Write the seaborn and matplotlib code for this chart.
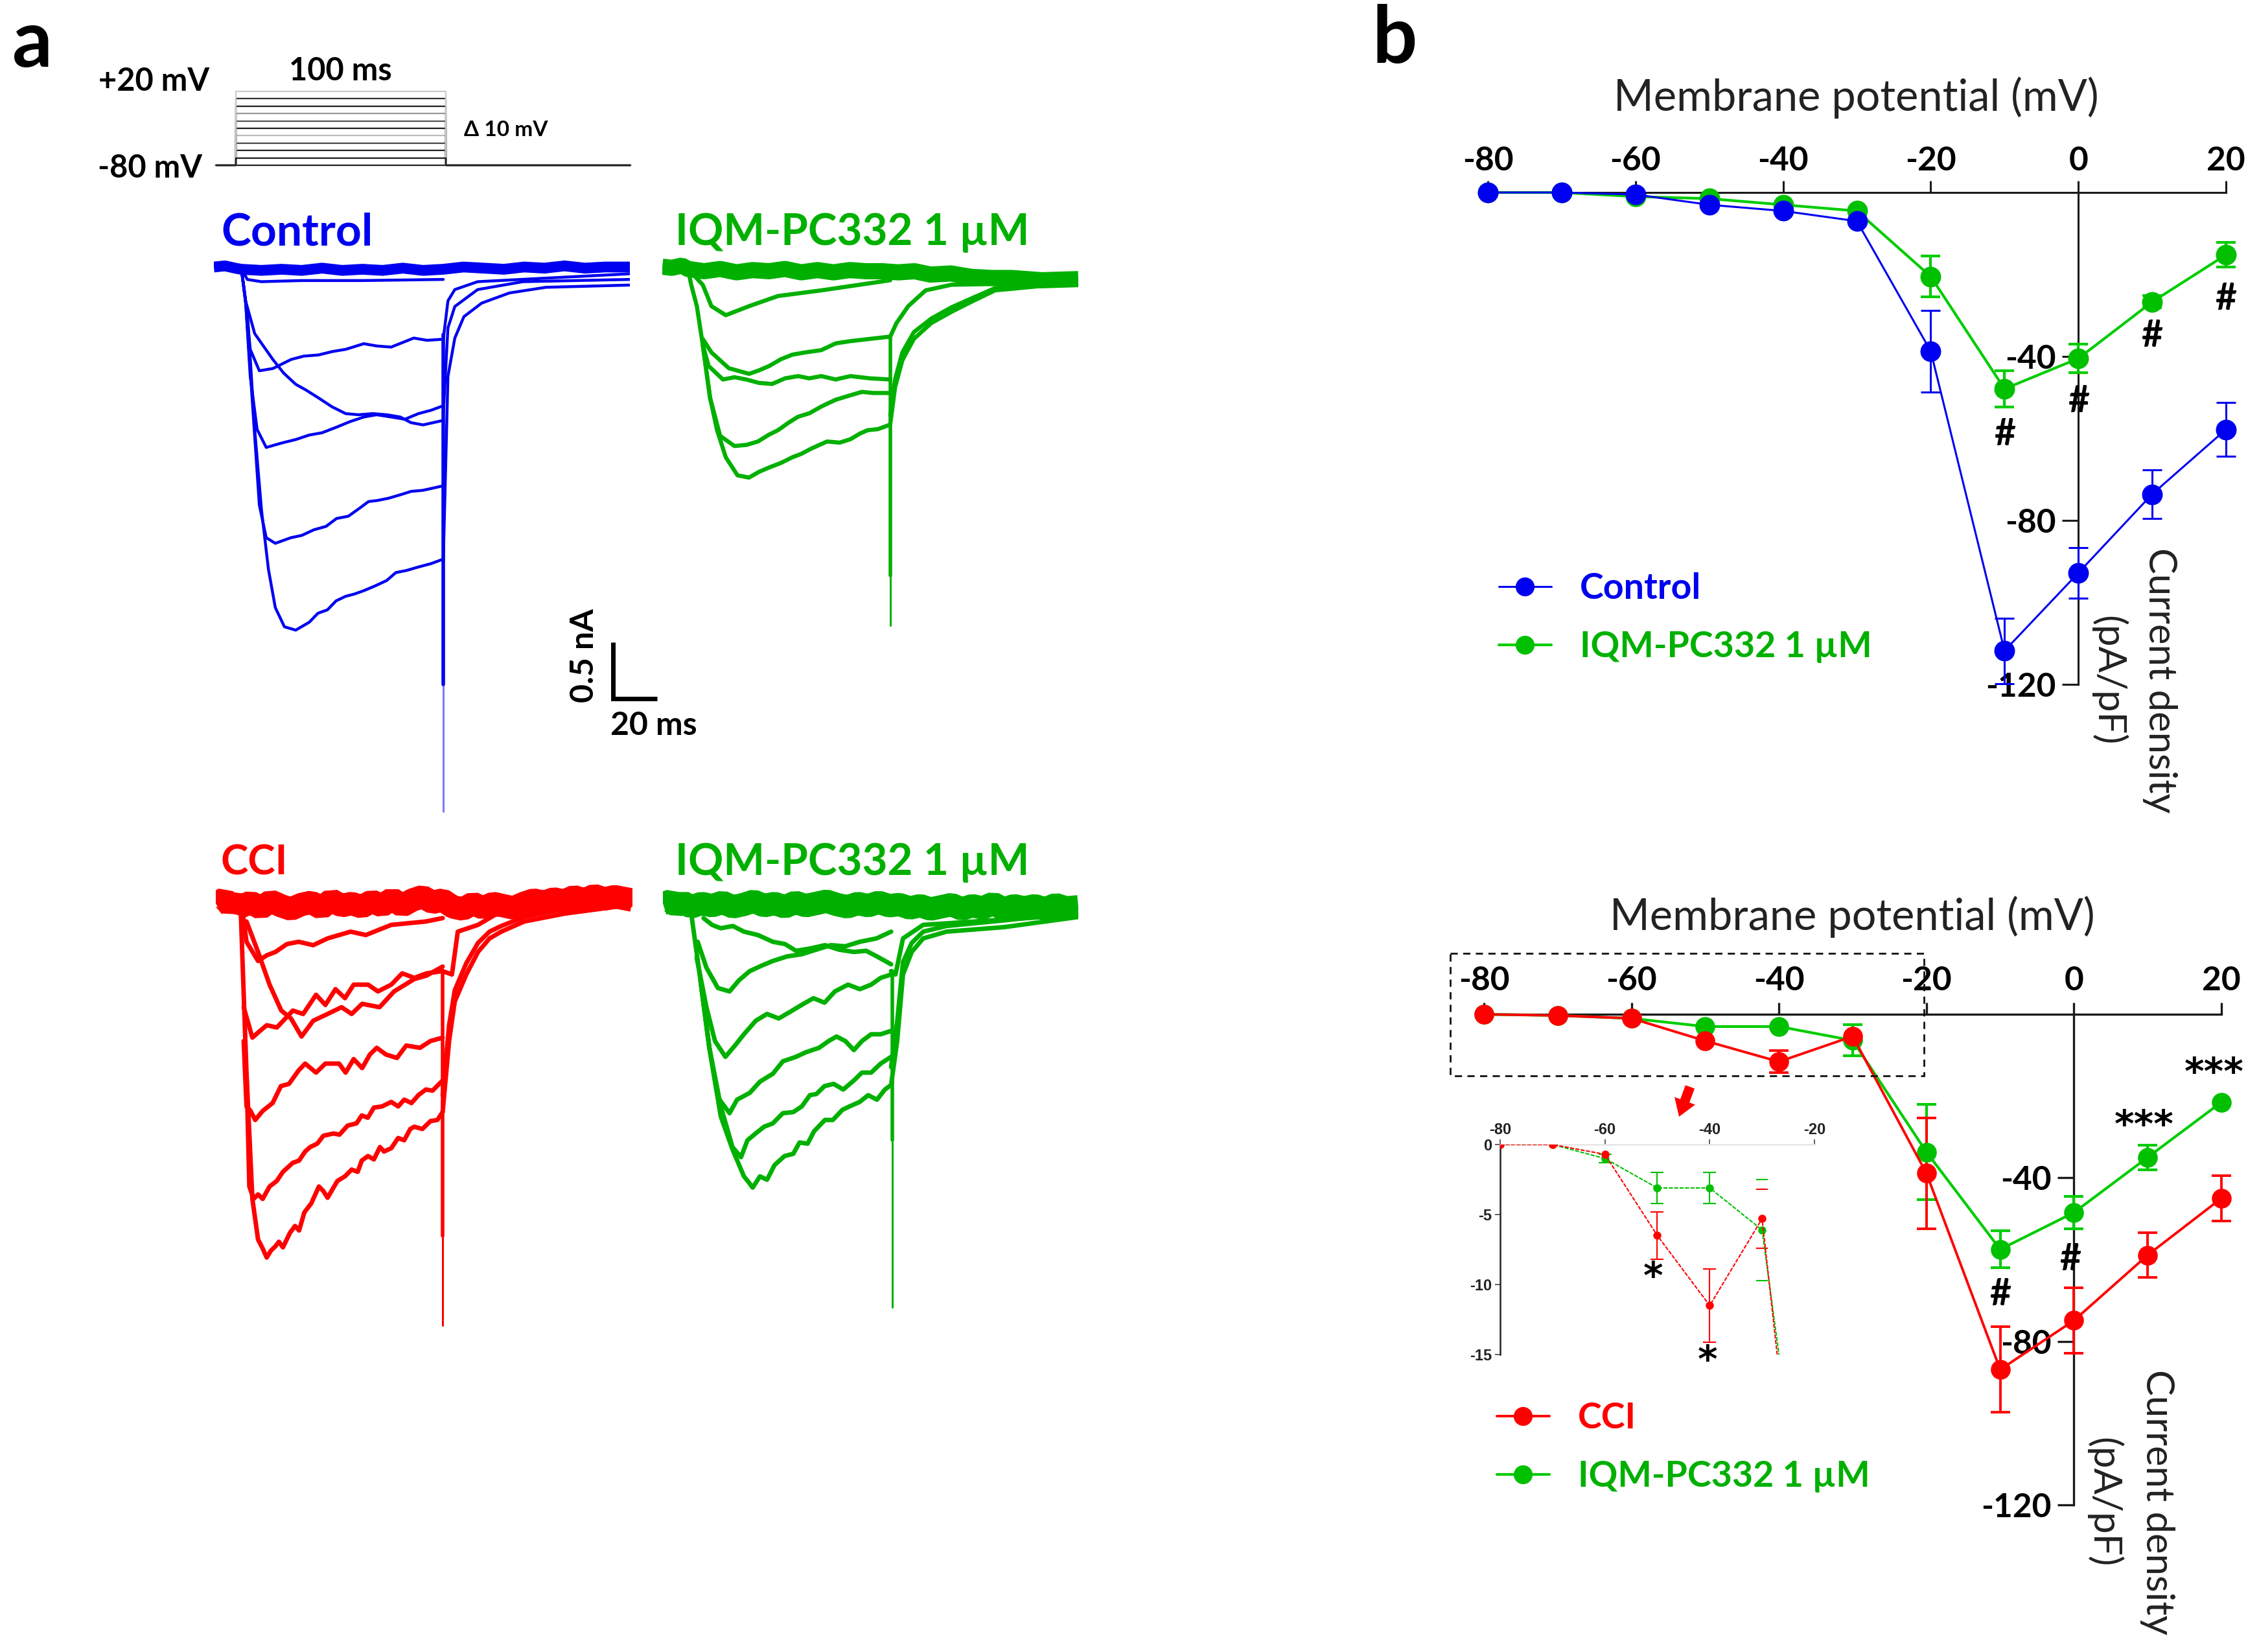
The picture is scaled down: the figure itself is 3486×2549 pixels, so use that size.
import matplotlib
matplotlib.use("Agg")
import matplotlib.pyplot as plt
import seaborn as sns
from matplotlib.patches import FancyArrow, Rectangle
from matplotlib.lines import Line2D

sns.set_theme(style="white")
plt.rcParams['font.family'] = ['Lato', 'DejaVu Sans']

W, H = 3487, 2549
BLUE, RED = '#0000F0', '#FF0000'
GLINE, GMARK, GTRACE = '#00CC00', '#00C000', '#00B000'
DARK = '#1a1a1a'

# ---------- panel b: current-density data ----------
voltage = [-80, -70, -60, -50, -40, -30, -20, -10, 0, 10, 20]
control_i = [0, 0, -0.5, -3, -4.5, -7, -38.7, -111.8, -92.8, -73.6, -57.8]
control_e = [0, 0, 0, 0, 0, 0, 10, 8, 6.2, 6, 6.5]
drug1_i = [0, 0, -1, -1.5, -3, -4.5, -20.5, -47.9, -40.5, -26.7, -15.2]
drug1_e = [0, 0, 0, 0, 0, 0, 5, 4.5, 3.5, 1.5, 3]
cci_i = [0, -0.3, -1, -6.5, -11.6, -5.4, -38.9, -86.9, -74.9, -58.9, -45]
cci_e = [0, 0, 0, 0, 2.7, 0, 13.6, 10.5, 8, 5.5, 5.5]
drug2_i = [0, -0.3, -1, -3, -3, -6.4, -33.7, -57.5, -48.5, -35, -21.5]
drug2_e = [0, 0, 0, 0, 0, 3.8, 11.7, 4.5, 4, 3, 0]

# inset (zoom of the same recordings)
inset_v = [-80, -70, -60, -50, -40, -30, -20]
inset_cci = [0, 0, -0.7, -6.5, -11.5, -5.3, -38.9]
inset_cci_e = [0, 0, 0, 1.7, 2.6, 0, 0]
inset_cci_cap = [-3.2, -7.4]
inset_drug = [0, 0, -1, -3.1, -3.1, -6.1, -33.7]
inset_drug_e = [0, 0, 0.3, 1.1, 1.1, 0, 0]
inset_drug_cap = [-2.5, -9.7]

x_ticks = [-80, -60, -40, -20, 0, 20]
y_ticks = [-40, -80, -120]
inset_xt = [-80, -60, -40, -20]
inset_yt = [0, -5, -10, -15]

# ---------- panel a: voltage protocol ----------
step_mv = [-80, -70, -60, -50, -40, -30, -20, -10, 0, 10, 20]
step_t = [-9.5, 0, 0, 100, 100, 188]

# ---------- panel a: Control traces (t in ms, I in nA) ----------
c5_t = [0, 3.4, 6.7, 10.1, 13.5, 16.9, 21.4, 27, 33.7, 38, 42.7, 47, 51.7, 56, 60.7, 66, 72, 76.5, 82, 87.7, 94, 100]
c5_i = [0, -.49, -1.44, -2.16, -2.68, -3.02, -3.19, -3.22, -3.15, -3.07, -3.04, -2.96, -2.92, -2.90, -2.87, -2.83, -2.78, -2.71, -2.69, -2.66, -2.63, -2.59]
c4_t = [0, 2.2, 5.6, 9, 12.4, 16.9, 24.7, 30, 36, 42, 47.2, 53, 58.5, 63, 67.5, 73, 78.7, 84, 90, 95, 100]
c4_i = [0, -.30, -1.21, -2.11, -2.40, -2.45, -2.40, -2.38, -2.33, -2.30, -2.23, -2.21, -2.14, -2.08, -2.07, -2.05, -2.02, -1.99, -1.98, -1.96, -1.94]
c3_t = [0, 2.2, 4.5, 7.9, 12.4, 20.2, 27, 33.7, 40, 47.2, 54, 60.7, 67, 74.2, 81, 87.7, 94, 100]
c3_i = [0, -.3, -.97, -1.44, -1.60, -1.56, -1.53, -1.49, -1.47, -1.42, -1.37, -1.33, -1.31, -1.33, -1.35, -1.30, -1.27, -1.23]
c2_t = [0, 2.2, 6.7, 11, 15.7, 21, 27, 32, 38.2, 45, 51.7, 58, 65.2, 72, 78.7, 84, 90, 100]
c2_i = [0, -.3, -.59, -.70, -.82, -.94, -1.04, -1.09, -1.16, -1.24, -1.30, -1.31, -1.30, -1.31, -1.33, -1.38, -1.40, -1.36]
c1_t = [0, 2.2, 4.5, 9, 15.7, 24.7, 31, 38.2, 45, 51.7, 60.7, 67, 74.2, 85.4, 92, 100]
c1_i = [0, -.3, -.73, -.92, -.90, -.82, -.79, -.78, -.75, -.73, -.68, -.70, -.71, -.63, -.65, -.64]
c0_t = [0, 3, 10, 30, 60, 100]
c0_i = [0, -.11, -.13, -.12, -.12, -.11]
ctl_t = [100, 102.3, 105.7, 110.2, 119, 132.7, 150.7, 192.3]
ctl_i = [-2.6, -.97, -.63, -.44, -.32, -.23, -.18, -.16]
ctm_t = [100, 102.3, 105.7, 117, 139.4, 192.3]
ctm_i = [-1.3, -.54, -.35, -.20, -.13, -.11]
ctu_t = [100, 102.3, 105.7, 117, 192.3]
ctu_i = [-.64, -.30, -.20, -.13, -.06]
cb_t = [-13.5, -8, -3, 0, 10, 20, 30, 40, 50, 60, 70, 80, 90, 100, 110, 120, 130, 140, 150, 160, 170, 180, 192.3]
cb_i = [0, .01, -.01, -.02, -.03, -.02, -.03, -.01, -.03, -.02, -.03, -.01, -.03, -.02, 0, -.01, -.02, 0, -.01, .01, -.01, 0, 0]
c_spike_t = [100, 100]
c_spike_i = [-.6, -3.7]
c_thin_i = [-3.7, -4.83]

# ---------- IQM-PC332 (upper) traces ----------
g5_t = [0, 1.6, 4.4, 7.3, 10.9, 14.4, 18.7, 24.5, 30.2, 35, 40.2, 46, 51.6, 56, 60.2, 65, 68.8, 75, 80.3, 85, 88.8, 94, 100]
g5_i = [0, -.14, -.33, -.67, -1.14, -1.43, -1.67, -1.83, -1.85, -1.80, -1.76, -1.72, -1.67, -1.64, -1.60, -1.56, -1.53, -1.54, -1.51, -1.46, -1.43, -1.42, -1.38]
g4_t = [7.3, 10.9, 15.9, 23, 29, 34.6, 40, 44.5, 50, 54.5, 60, 65.9, 73, 80.3, 86, 91.7, 100]
g4_i = [-.67, -1.14, -1.48, -1.57, -1.56, -1.53, -1.47, -1.43, -1.36, -1.31, -1.28, -1.22, -1.16, -1.12, -1.09, -1.10, -1.10]
g3_t = [7.3, 10.2, 17.3, 23, 28.8, 35, 41.6, 48, 54.5, 60, 65.9, 73, 80.3, 90, 100]
g3_i = [-.67, -.86, -.98, -.96, -.98, -1.01, -1.02, -.97, -.95, -.97, -.95, -.98, -.95, -.97, -.98]
g2_t = [7.3, 11.6, 20.2, 30.2, 35, 40.2, 46, 51.6, 58, 65.9, 73, 80.3, 90, 100]
g2_i = [-.62, -.74, -.88, -.93, -.90, -.86, -.80, -.76, -.74, -.72, -.66, -.64, -.62, -.60]
g1_t = [0, 7.3, 11.6, 18.7, 30.2, 44.5, 65.9, 100]
g1_i = [0, -.14, -.33, -.41, -.33, -.24, -.19, -.10]
gtl_t = [100, 102.4, 106, 111.7, 120.3, 130.3, 140.3, 151.8, 193]
gtl_i = [-1.38, -1.05, -.81, -.62, -.48, -.38, -.29, -.19, -.12]
gtl2_i = [-1.30, -.98, -.74, -.56, -.44, -.34, -.26, -.17, -.10]
gtm_t = [100, 103.1, 108.9, 117.5, 130.3, 193]
gtm_i = [-.6, -.48, -.33, -.19, -.14, -.12]
gb_t = [-12.7, -8, -3, 0, 8, 16, 24, 32, 40, 48, 56, 64, 72, 80, 88, 96, 104, 112, 120, 130, 140, 150, 160, 175, 193]
gb_i = [.02, .01, .03, 0, -.02, 0, -.03, -.01, -.02, 0, -.03, -.01, -.03, -.01, -.02, -.02, -.03, -.02, -.05, -.04, -.07, -.08, -.08, -.10, -.09]
g_spike_t = [100, 100]
g_spike_i = [-.6, -2.72]
g_thin_i = [-2.72, -3.16]

# ---------- CCI traces ----------
r5_t = [.1, 3, 5.9, 8.7, 11, 13, 15, 17.3, 19, 21, 24.5, 27, 29, 31.6, 35, 38.8, 41, 43.1, 46, 48, 51.7, 55, 58, 60, 63.1, 66, 69, 71, 74.6, 78, 81, 84, 86, 90, 94, 97.4, 100]
r5_i = [-.04, -1.51, -2.62, -2.98, -3.06, -3.14, -3.08, -3.04, -3.00, -3.05, -2.92, -2.86, -2.90, -2.74, -2.66, -2.51, -2.55, -2.61, -2.52, -2.46, -2.42, -2.36, -2.38, -2.28, -2.24, -2.27, -2.16, -2.20, -2.17, -2.08, -2.10, -2.00, -1.98, -2.00, -1.93, -1.92, -1.85]
r4_t = [3, 4.4, 6.5, 8.7, 11, 14.4, 18, 21, 25.9, 29, 32, 34.5, 38, 41, 46, 49, 53, 57.4, 60, 63, 66, 70, 74.6, 78, 81, 84.6, 88, 91.7, 95, 100]
r4_i = [-1.51, -2.51, -2.62, -2.58, -2.62, -2.51, -2.46, -2.38, -2.30, -2.28, -2.20, -2.16, -2.13, -2.06, -2.04, -2.05, -1.97, -1.95, -1.88, -1.90, -1.81, -1.80, -1.76, -1.80, -1.74, -1.77, -1.70, -1.65, -1.66, -1.57]
r3_t = [1.6, 3, 5, 7.3, 11, 15.9, 20, 24, 28.8, 32, 37.4, 42, 48.8, 52, 56, 60.2, 64, 67.4, 72, 77.4, 82, 88.8, 94, 100]
r3_i = [-1.22, -1.80, -1.84, -1.92, -1.84, -1.77, -1.62, -1.60, -1.48, -1.42, -1.50, -1.42, -1.42, -1.50, -1.38, -1.46, -1.34, -1.28, -1.34, -1.37, -1.26, -1.28, -1.22, -1.19]
r2_t = [1.6, 5.9, 9, 13, 18, 25.9, 31, 37.4, 42, 47, 51.7, 56, 63.1, 68, 74.6, 80, 86, 92, 100]
r2_i = [-.92, -1.19, -1.14, -1.08, -1.10, -.95, -.98, -.81, -.90, -.76, -.84, -.72, -.72, -.78, -.72, -.62, -.66, -.62, -.60]
rs_t = [3, 8.7, 14.4, 20.2, 25, 30.2, 36, 43.1, 50, 55, 60.2, 68.8, 76, 86, 92, 100]
rs_i = [-.16, -.43, -.72, -.95, -1.02, -1.18, -1.04, -.98, -.92, -.98, -.89, -.92, -.78, -.67, -.64, -.56]
r1_t = [.5, 3, 8.7, 13, 17.3, 23, 28.8, 36, 43.1, 54.5, 62, 74.6, 91.7, 100]
r1_i = [0, -.34, -.51, -.46, -.43, -.36, -.34, -.37, -.31, -.25, -.28, -.19, -.16, -.13]
rtl_t = [100, 103.2, 106, 111.7, 117.5, 123.2, 129, 140.4, 160.4, 193.9]
rtl_i = [-1.85, -1.22, -.87, -.63, -.43, -.31, -.25, -.16, -.09, -.01]
rtl2_i = [-1.70, -1.08, -.77, -.53, -.35, -.25, -.20, -.12, -.05, .01]
rtm_t = [100, 104.6, 107.5, 117.5, 126, 193.9]
rtm_i = [-.6, -.63, -.25, -.19, -.10, -.01]
rb_t = [-12.2, -8, -5, -2, 0, 5, 10, 15, 20, 25, 30, 35, 40, 45, 50, 55, 60, 65, 70, 75, 80, 85, 90, 95, 100, 105, 110, 115, 120, 125, 130, 135, 140, 145, 150, 155, 160, 165, 170, 175, 180, 185, 193.9]
rb_i = [0, .04, -.02, .03, -.03, .01, -.04, .02, -.02, -.05, -.01, .01, -.04, .03, -.02, 0, -.03, .02, -.02, .04, -.02, .03, .06, .01, .03, -.03, -.05, 0, -.04, 0, -.02, -.04, 0, .03, .01, .04, .02, .06, .03, .07, .04, .06, .03]
r_spike_t = [100, 100]
r_spike_i = [-.6, -2.95]
r_thin_i = [-2.95, -3.74]

# ---------- IQM-PC332 (lower) traces ----------
v5_t = [3.3, 7.5, 11.7, 17.2, 22.8, 28.3, 30.5, 32.5, 36, 39.4, 43, 47.8, 52, 55, 58.9, 62, 67.2, 71, 75.6, 79, 83.9, 88, 92.2, 96, 99]
v5_i = [-.13, -.69, -1.28, -1.89, -2.18, -2.42, -2.47, -2.52, -2.42, -2.45, -2.32, -2.24, -2.22, -2.12, -2.13, -2.02, -1.92, -1.92, -1.83, -1.80, -1.76, -1.70, -1.74, -1.65, -1.61]
v4_t = [7.5, 11.7, 17.2, 22.8, 26.9, 30, 33.9, 38, 42.2, 47, 52, 56.1, 60, 63.1, 67, 71.4, 76, 81.1, 85, 89.4, 94, 99]
v4_i = [-.69, -1.28, -1.80, -2.16, -2.25, -2.10, -2.04, -1.98, -1.95, -1.86, -1.85, -1.80, -1.70, -1.69, -1.62, -1.60, -1.65, -1.57, -1.50, -1.50, -1.42, -1.36]
v3_t = [7.5, 11.7, 15.8, 21.4, 25, 31.1, 36, 42.2, 47, 53.3, 58, 64.4, 69, 72.8, 77, 81.1, 85, 89.4, 94, 99]
v3_i = [-.69, -1.28, -1.72, -1.86, -1.74, -1.68, -1.58, -1.51, -1.40, -1.36, -1.32, -1.28, -1.22, -1.18, -1.22, -1.30, -1.22, -1.16, -1.16, -1.13]
v2_t = [5.6, 10.3, 14.4, 19.4, 24, 28.3, 34, 39.4, 45, 50.6, 56, 61.7, 67, 72, 78.3, 84, 89.4, 94, 99]
v2_i = [-.48, -.92, -1.22, -1.36, -1.26, -1.16, -1.04, -.98, -1.02, -.96, -.90, -.84, -.88, -.78, -.72, -.76, -.72, -.66, -.63]
v1_t = [6.1, 10.3, 15.8, 21.4, 26, 31.1, 37, 42.2, 49, 56.1, 63, 70, 77, 83.9, 92, 99]
v1_i = [-.34, -.57, -.75, -.78, -.68, -.60, -.55, -.51, -.47, -.45, -.41, -.37, -.38, -.34, -.31, -.25]
vs_t = [8.9, 13, 17.2, 23, 28.3, 35, 42.2, 48, 53.3, 60, 67.2, 74, 81.1, 87, 92.2, 99]
vs_i = [-.13, -.19, -.22, -.20, -.25, -.28, -.34, -.36, -.42, -.40, -.37, -.41, -.43, -.42, -.47, -.54]
vtl_t = [99, 101.9, 104.7, 108.9, 114.4, 125.6, 153.3, 188.9]
vtl_i = [-1.61, -1.22, -.63, -.43, -.31, -.25, -.21, -.12]
vtl2_i = [-1.45, -1.05, -.52, -.35, -.25, -.20, -.15, -.08]
vtm_t = [99, 101.1, 104.7, 114.4, 188.9]
vtm_i = [-.6, -.63, -.31, -.19, -.10]
vb_t = [-10.6, -7, -4, -1, 3, 8, 13, 18, 23, 28, 33, 38, 43, 48, 53, 58, 63, 68, 73, 78, 83, 88, 93, 98, 103, 108, 113, 118, 123, 128, 133, 138, 143, 148, 153, 158, 163, 168, 173, 178, 183, 188.9]
vb_i = [0, .02, -.02, .01, -.03, 0, -.02, .01, -.03, -.01, .02, -.02, 0, -.03, .01, -.02, 0, .02, -.01, -.03, 0, -.02, .01, -.02, -.01, -.04, -.02, -.05, -.03, -.01, -.05, -.02, -.04, 0, -.05, -.02, -.04, -.02, -.05, -.01, -.04, -.03]
v_spike_t = [99.5, 99.5]
v_spike_i = [-.6, -2.10]
v_thin_i = [-2.10, -3.58]

fig = plt.figure(figsize=(W / 100, H / 100), dpi=100, facecolor='white')


def px_axes(x0, y0, x1, y1, **kw):
    return fig.add_axes([x0 / W, 1 - y1 / H, (x1 - x0) / W, (y1 - y0) / H], **kw)


def line(ax, x, y, color, lw, **kw):
    sns.lineplot(x=x, y=y, sort=False, estimator=None, errorbar=None, color=color,
                 linewidth=lw, ax=ax, legend=False, **kw)


def T(x, y, s, size, color='black', weight='bold', rot=0, family=None, **kw):
    fig.text(x / W, 1 - y / H, s, fontsize=size, color=color, fontweight=weight, rotation=rot,
             ha='center', va='center', rotation_mode='anchor',
             family=family or ['Lato', 'DejaVu Sans'], **kw)


def trace_panel(x0, x1, base_y, xlim, traces, base, spike_t, spike_i, thin_i, color, thin_color, lw, band):
    top, bottom = base_y - 60, base_y + 880
    ax = px_axes(x0, top, x1, bottom)
    ax.set_xlim(*xlim)
    ax.set_ylim(-(bottom - base_y) / 174, (base_y - top) / 174)
    ax.axis('off')
    line(ax, base[0], base[1], color, band, solid_capstyle='butt', solid_joinstyle='bevel')
    line(ax, spike_t, thin_i, thin_color, 2.2)
    line(ax, spike_t, spike_i, color, 4.0)
    for t, i in traces:
        line(ax, t, i, color, lw)
    return ax


def iv_panel(x0, x1, y0, y1, series, tick_lw, msize, xpad):
    ax = px_axes(x0, y0, x1, y1)
    ax.set_facecolor('none')
    ax.set_xlim(-80, 20)
    ax.set_ylim(-120, 0)
    handles = []
    for vals, errs, lc, mc, lw, lab in series:
        n0 = len(ax.lines)
        sns.lineplot(x=voltage, y=vals, color=lc, linewidth=lw, marker='o', markersize=msize,
                     markerfacecolor=mc, markeredgecolor=mc, markeredgewidth=0, errorbar=None,
                     ax=ax, legend=False, clip_on=False, zorder=4)
        handles.append(ax.lines[n0])
        idx = [k for k, e in enumerate(errs) if e > 0]
        ec = ax.errorbar([voltage[k] for k in idx], [vals[k] for k in idx], yerr=[errs[k] for k in idx],
                         fmt='none', ecolor=lc, elinewidth=lw, capsize=11, capthick=lw, zorder=3)
        for art in list(ec.lines[1]) + list(ec.lines[2]):
            art.set_clip_on(False)
    for s in ['bottom', 'right']:
        ax.spines[s].set_visible(False)
    ax.spines['top'].set_visible(True)
    ax.spines['top'].set_color(DARK)
    ax.spines['top'].set_linewidth(tick_lw)
    ax.spines['left'].set_position(('data', 0))
    ax.spines['left'].set_color(DARK)
    ax.spines['left'].set_linewidth(tick_lw)
    ax.xaxis.tick_top()
    ax.set_xticks(x_ticks)
    ax.set_xticklabels([str(v) for v in x_ticks], fontsize=37, fontweight='bold', color='black')
    ax.set_yticks(y_ticks)
    ax.set_yticklabels([str(v) for v in y_ticks], fontsize=37, fontweight='bold', color='black')
    ax.tick_params(axis='x', which='major', direction='out', length=13, width=tick_lw, color=DARK, pad=xpad,
                   top=True, bottom=False)
    ax.tick_params(axis='y', which='major', direction='out', length=18, width=tick_lw, color=DARK, pad=7, left=True)
    return ax, handles


# ---------- voltage protocol ----------
ax_p = px_axes(333, 141, 973, 255)
ax_p.set_xlim(-9.5, 188)
ax_p.set_ylim(-80, 20)
ax_p.axis('off')
proto_cols = ['#1f1f1f', '#8a8a8a', '#1f1f1f', '#444444', '#bbbbbb', '#1f1f1f', '#555555', '#999999', '#1f1f1f', '#333333', '#cccccc']
for mv, col in zip(step_mv, proto_cols):
    line(ax_p, step_t, [-80, -80, mv, mv, -80, -80], col, 1.6, clip_on=False)
line(ax_p, step_t, [-80, -80, -70, -70, -80, -80], '#1f1f1f', 1.6, clip_on=False)

# ---------- traces ----------
trace_panel(330, 972, 412, (-13.5, 192.3),
            [(c0_t, c0_i), (c1_t, c1_i), (c2_t, c2_i), (c3_t, c3_i), (c4_t, c4_i), (c5_t, c5_i),
             (ctl_t, ctl_i), (ctm_t, ctm_i), (ctu_t, ctu_i)],
            (cb_t, cb_i), c_spike_t, c_spike_i, c_thin_i, BLUE, '#7a7aff', 3.2, 12)
trace_panel(1022, 1664, 415, (-12.7, 193),
            [(g1_t, g1_i), (g2_t, g2_i), (g3_t, g3_i), (g4_t, g4_i), (g5_t, g5_i), (gtl_t, gtl_i), (gtl_t, gtl2_i), (gtm_t, gtm_i)],
            (gb_t, gb_i), g_spike_t, g_spike_i, g_thin_i, GTRACE, GTRACE, 4.6, 18)
trace_panel(333, 976, 1394, (-12.2, 193.9),
            [(r1_t, r1_i), (r2_t, r2_i), (rs_t, rs_i), (r3_t, r3_i), (r4_t, r4_i), (r5_t, r5_i), (rtl_t, rtl_i), (rtl_t, rtl2_i), (rtm_t, rtm_i)],
            (rb_t, rb_i), r_spike_t, r_spike_i, r_thin_i, RED, RED, 5, 26)
trace_panel(1023, 1664, 1394, (-10.6, 188.9),
            [(v1_t, v1_i), (vs_t, vs_i), (v2_t, v2_i), (v3_t, v3_i), (v4_t, v4_i), (v5_t, v5_i), (vtl_t, vtl_i), (vtl_t, vtl2_i), (vtm_t, vtm_i)],
            (vb_t, vb_i), v_spike_t, v_spike_i, v_thin_i, GTRACE, GTRACE, 5, 26)

# ---------- IV plots ----------
ax_top, h_top = iv_panel(2296, 3435, 297, 1056,
                         [(drug1_i, drug1_e, GLINE, GMARK, 3.0, 'IQM-PC332 1 µM'),
                          (control_i, control_e, BLUE, BLUE, 2.2, 'Control')], 2.2, 23, 5)
ax_bot, h_bot = iv_panel(2290, 3428, 1565, 2322,
                         [(drug2_i, drug2_e, GLINE, GMARK, 3.0, 'IQM-PC332 1 µM'),
                          (cci_i, cci_e, RED, RED, 2.8, 'CCI')], 2.4, 22, 7)


def legend(ax, handles, labels, colors, x, y):
    proxies = [Line2D([], [], color=h.get_color(), lw=h.get_linewidth(), marker='o',
                      markersize=21, markerfacecolor=h.get_markerfacecolor(), markeredgewidth=0) for h in handles]
    lg = ax.legend(proxies, labels, loc='center left', bbox_to_anchor=(x / W, 1 - y / H),
                   bbox_transform=fig.transFigure, frameon=False, borderpad=0, borderaxespad=0,
                   handlelength=1.45, handletextpad=0.8, labelspacing=0.72,
                   prop={'size': 40, 'weight': 'bold', 'family': ['Lato', 'DejaVu Sans']})
    for t, c in zip(lg.get_texts(), colors):
        t.set_color(c)


legend(ax_top, h_top[::-1], ['Control', 'IQM-PC332 1 µM'], [BLUE, GTRACE], 2313, 953)
legend(ax_bot, h_bot[::-1], ['CCI', 'IQM-PC332 1 µM'], [RED, GTRACE], 2310, 2233)

# significance marks
for x, y in zip([-10, 0, 10, 20], [-59, -51, -35, -26]):
    ax_top.text(x, y, '#', fontsize=41, fontweight='bold', ha='center', va='center', color='black', zorder=6)
for x, y in zip([-10, -0.5], [-68.5, -60]):
    ax_bot.text(x, y, '#', fontsize=41, fontweight='bold', ha='center', va='center', color='black', zorder=6)
for x, y in zip([9.5, 19], [-27.3, -14.5]):
    ax_bot.text(x, y, '***', fontsize=42, fontweight='bold', ha='center', va='center', color='black',
                zorder=6, family='DejaVu Sans')

# ---------- inset ----------
ax_i = px_axes(2315, 1766, 2800, 2090)
ax_i.set_facecolor('none')
ax_i.set_xlim(-80, -20)
ax_i.set_ylim(-15, 0)
for vals, errs, col, caps in [(inset_drug, inset_drug_e, GMARK, inset_drug_cap), (inset_cci, inset_cci_e, RED, inset_cci_cap)]:
    sns.lineplot(x=inset_v, y=vals, color=col, linewidth=1.5, linestyle=(0, (3, 1)), marker='o', markersize=9,
                 markerfacecolor=col, markeredgewidth=0, errorbar=None, ax=ax_i, legend=False, zorder=4)
    idx = [k for k, e in enumerate(errs) if e > 0]
    ax_i.errorbar([inset_v[k] for k in idx], [vals[k] for k in idx], yerr=[errs[k] for k in idx],
                  fmt='none', ecolor=col, elinewidth=1.5, capsize=7, capthick=1.5, zorder=3)
    sns.scatterplot(x=[-30, -30], y=caps, color=col, marker='_', s=180, linewidth=1.5, ax=ax_i, legend=False, zorder=3)
for s in ['bottom', 'right']:
    ax_i.spines[s].set_visible(False)
ax_i.spines['top'].set_visible(True)
ax_i.spines['top'].set_color('#e6e6e6')
ax_i.spines['top'].set_linewidth(1.8)
ax_i.spines['left'].set_color('#222222')
ax_i.spines['left'].set_linewidth(1.8)
ax_i.xaxis.tick_top()
ax_i.set_xticks(inset_xt)
ax_i.set_xticklabels([str(v) for v in inset_xt], fontsize=17, fontweight='bold', family='Liberation Sans', color='#222222')
ax_i.set_yticks(inset_yt)
ax_i.set_yticklabels([str(v) for v in inset_yt], fontsize=17, fontweight='bold', family='Liberation Sans', color='#222222')
ax_i.tick_params(axis='x', length=6, width=1.2, color='#444444', pad=2, top=True, bottom=False)
ax_i.tick_params(axis='y', length=6, width=1.2, color='#444444', pad=3, left=True)
for x, y in zip([-50.8, -40.4], [-9.5, -15.5]):
    ax_i.text(x, y, '*', fontsize=42, fontweight='bold', ha='center', va='center', color='black',
              clip_on=False, family='DejaVu Sans')

# ---------- annotation layer ----------
over = fig.add_axes([0, 0, 1, 1], facecolor='none', zorder=10)
over.set_xlim(0, W)
over.set_ylim(H, 0)
over.axis('off')
over.add_patch(Rectangle((2238, 1471), 731, 189, fill=False, edgecolor='#111111', lw=2.0, linestyle=(0, (4, 3))))
over.add_patch(FancyArrow(2608, 1677, -17, 46, width=15, head_width=34, head_length=26,
                          length_includes_head=True, color=RED, lw=0))
over.plot([946, 946, 1014], [991, 1078, 1078], color='black', lw=5, solid_joinstyle='miter', solid_capstyle='butt')

T(50, 68, 'a', 88)
T(2152, 62, 'b', 88)
T(238, 126, '+20 mV', 35)
T(232, 259, '-80 mV', 35)
T(525, 110, '100 ms', 35)
T(781, 201, 'Δ 10 mV', 24)
T(459, 359, 'Control', 50, BLUE)
T(1315, 359, 'IQM-PC332 1 µM', 48.5, GTRACE)
T(392, 1331, 'CCI', 46, RED)
T(1315, 1331, 'IQM-PC332 1 µM', 48.5, GTRACE)
T(902, 1012, '0.5 nA', 36, rot=90)
T(1009, 1119, '20 ms', 36)
T(2864, 151, 'Membrane potential (mV)', 48, '#222222', 'normal')
T(2858, 1415, 'Membrane potential (mV)', 48, '#222222', 'normal')
T(3333, 1050, 'Current density', 43, '#222222', 'normal', rot=270)
T(3254, 1050, '(pA/pF)', 43, '#222222', 'normal', rot=270)
T(3329, 2318, 'Current density', 43, '#222222', 'normal', rot=270)
T(3247, 2318, '(pA/pF)', 43, '#222222', 'normal', rot=270)

fig.savefig('out.png', dpi=100, facecolor='white')
